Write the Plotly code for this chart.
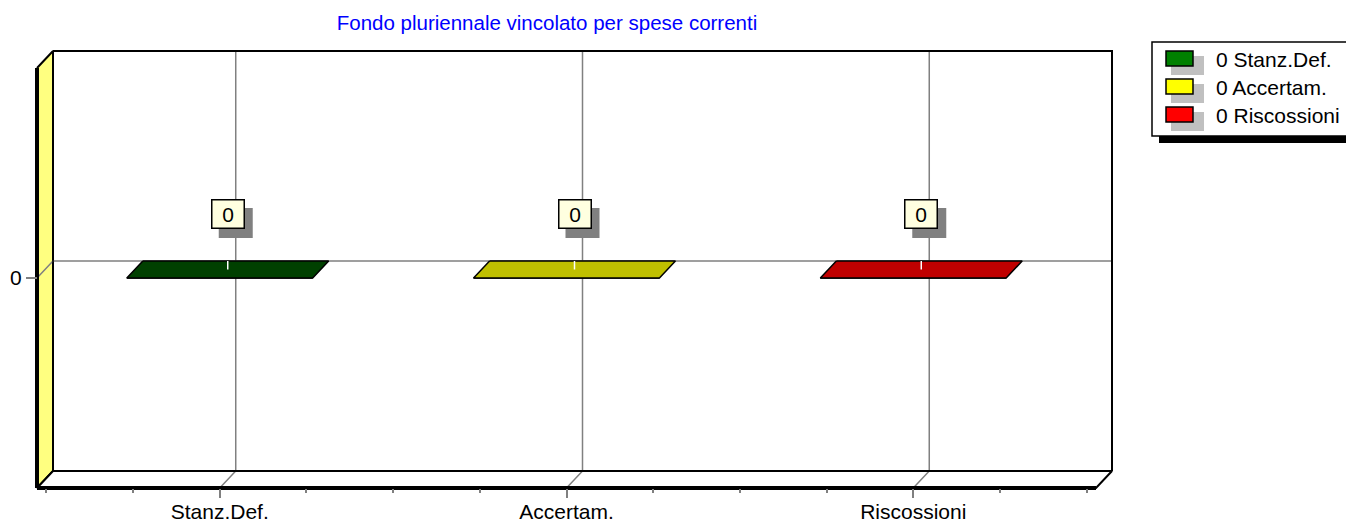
import plotly.graph_objects as go

# data
categories = ["Stanz.Def.", "Accertam.", "Riscossioni"]
values = [0, 0, 0]
y_ticks = [0]
title_text = "Fondo pluriennale vincolato per spese correnti"

# styles
legend_colors = ["#008000", "#FFFF00", "#FF0000"]
top_colors = ["#004000", "#C0C000", "#C00000"]
GRID = "#808080"
FONT = "Liberation Sans, Arial, sans-serif"
FS = 21

# page pixels -> figure pixels (page body has an 8px margin)
OFF = 8
W, H = 1354 - OFF, 525 - OFF


def pg(p):
    return p - OFF


# pixel geometry of the 3d box (page coordinates)
BOX_L, BOX_R = pg(37), pg(1112)      # front-left, back-right
BOX_T, BOX_B = pg(51), pg(488)       # back-top, front-bottom
DEPTH_X, DEPTH_Y = 16, 17
PAD = 6
XPAD = 0.027                 # extra room on the back wall, in categories
HW = 0.268                   # half bar width, in categories

n = len(categories)
vmax = max([abs(v) for v in values] + [1])
sx = (BOX_R - BOX_L - DEPTH_X) / (n + 2 * XPAD)
sy = (BOX_B - BOX_T - DEPTH_Y) / (2 * vmax)
DX = -DEPTH_X / sx
DY = -DEPTH_Y / sy

wall_l = -0.5 - XPAD
wall_r = n - 0.5 + XPAD
front_l = wall_l + DX
front_r = wall_r + DX
floor_y = -vmax + DY

ml, mr = BOX_L - PAD, W - BOX_R - PAD
mt, mb = BOX_T - PAD, H - BOX_B - PAD
plot_w = W - ml - mr
plot_h = H - mt - mb


def px(p):
    return (pg(p) - ml) / plot_w


def py(p):
    return (H - mb - pg(p)) / plot_h


fig = go.Figure()


def poly(xs, ys, fill=None, color="black", width=2):
    fig.add_trace(go.Scatter(
        x=xs, y=ys, mode="lines",
        fill="toself" if fill else None, fillcolor=fill,
        line=dict(color=color, width=width),
        hoverinfo="skip", showlegend=False,
    ))


# walls and floor
poly([wall_l, wall_r, wall_r, wall_l, wall_l], [vmax, vmax, -vmax, -vmax, vmax], fill="white", width=0)
poly([front_l, wall_l, wall_l, front_l, front_l],
     [vmax + DY, vmax, -vmax, floor_y, vmax + DY], fill="#FFFF80", width=2)
poly([front_l, wall_l, wall_r, front_r, front_l],
     [floor_y, -vmax, -vmax, floor_y, floor_y], fill="white", width=2)

# gridlines
for t in y_ticks:
    poly([front_l, wall_l, wall_r], [t + DY, t, t], color=GRID, width=1.5)
for i in range(n):
    poly([i + DX, i, i], [floor_y, -vmax, vmax], color=GRID, width=1.5)

# frame edges
poly([wall_l, wall_r, wall_r], [vmax, vmax, -vmax], width=2)
poly([wall_l, wall_r], [-vmax, -vmax], width=2)
poly([wall_l, wall_l], [vmax, -vmax], width=1.5)
poly([front_l, front_l], [vmax + DY, floor_y], width=4)
poly([front_l, front_r], [floor_y, floor_y], width=4)

# bars (front face + top face)
for i, v in enumerate(values):
    poly([i - HW + DX, i + HW + DX, i + HW + DX, i - HW + DX, i - HW + DX],
         [DY, DY, v + DY, v + DY, DY], fill=top_colors[i], width=1.5)
    poly([i - HW, i + HW, i + HW + DX, i - HW + DX, i - HW],
         [v, v, v + DY, v + DY, v], fill=top_colors[i], width=1.5)
    poly([i + DX / 2, i + DX / 2], [v + DY / 2, v], color="white", width=1.5)

# value labels with shadow
LBL_W, LBL_H, LBL_UP = 34, 30, 47
for i, v in enumerate(values):
    fig.add_shape(type="rect", xref="x", yref="y",
                  xsizemode="pixel", ysizemode="pixel",
                  xanchor=i + DX / 2, yanchor=v,
                  x0=-LBL_W / 2 + 8, x1=LBL_W / 2 + 8,
                  y0=LBL_UP - LBL_H / 2 - 9, y1=LBL_UP + LBL_H / 2 - 9,
                  fillcolor="#808080", line=dict(width=0))
    fig.add_annotation(
        x=i + DX / 2, y=v, text=str(v), showarrow=False,
        yshift=LBL_UP, width=LBL_W - 3, height=LBL_H - 3,
        bgcolor="#FFFFE0", bordercolor="black", borderwidth=1.5, borderpad=0,
        font=dict(family=FONT, size=FS, color="black"),
    )

# legend
LX0, LY0, LX1, LY1 = 1152, 42, 1352, 136
fig.add_shape(type="rect", xref="paper", yref="paper",
              x0=px(LX0 + 7), x1=px(LX1 + 7), y0=py(LY0 + 7), y1=py(LY1 + 7),
              fillcolor="black", line=dict(width=0))
fig.add_shape(type="rect", xref="paper", yref="paper",
              x0=px(LX0), x1=px(LX1), y0=py(LY0), y1=py(LY1),
              fillcolor="white", line=dict(color="black", width=1.5))
for k, (name, v) in enumerate(zip(categories, values)):
    top = 51 + 28 * k
    fig.add_shape(type="rect", xref="paper", yref="paper",
                  x0=px(1171), x1=px(1204), y0=py(top + 5), y1=py(top + 24),
                  fillcolor="#C0C0C0", line=dict(width=0))
    fig.add_shape(type="rect", xref="paper", yref="paper",
                  x0=px(1166), x1=px(1193), y0=py(top), y1=py(top + 15),
                  fillcolor=legend_colors[k], line=dict(color="black", width=1.5))
    fig.add_annotation(x=px(1214), y=py(top + 8), xref="paper", yref="paper",
                       text=f"{v} {name}", showarrow=False,
                       xanchor="left", yanchor="middle",
                       font=dict(family=FONT, size=FS, color="black"))

fig.update_layout(
    width=W, height=H,
    margin=dict(l=ml, r=mr, t=mt, b=mb, pad=0, autoexpand=False),
    paper_bgcolor="white", plot_bgcolor="white",
    showlegend=False,
    title=dict(text=title_text, x=pg(547) / W, y=1 - pg(23) / H,
               xref="container", yref="container",
               xanchor="center", yanchor="middle",
               font=dict(family=FONT, size=20.5, color="#0000FF")),
    xaxis=dict(
        range=[front_l - PAD / sx, wall_r + PAD / sx],
        showgrid=False, zeroline=False, showline=False, automargin=False,
        tickmode="array", tickvals=[i + DX for i in range(n)], ticktext=categories,
        ticks="outside", ticklen=9, tickwidth=1.5, tickcolor=GRID,
        ticklabelstandoff=-4,
        minor=dict(tickmode="array", ticks="outside", ticklen=4, tickwidth=1.5, tickcolor=GRID,
                   tickvals=[j * 0.25 - 0.5 + DX for j in range(4 * n + 1) if j % 4 != 2]),
        tickfont=dict(family=FONT, size=FS, color="black"),
        anchor="free", position=PAD / plot_h, fixedrange=True,
    ),
    yaxis=dict(
        range=[floor_y - PAD / sy, vmax + PAD / sy],
        showgrid=False, zeroline=False, showline=False, automargin=False,
        tickmode="array", tickvals=[t + DY for t in y_ticks], ticktext=[str(t) for t in y_ticks],
        ticks="outside", ticklen=11, tickwidth=1.5, tickcolor=GRID,
        tickfont=dict(family=FONT, size=FS, color="black"),
        anchor="free", position=PAD / plot_w, fixedrange=True,
    ),
)

fig.write_html("out.html")
